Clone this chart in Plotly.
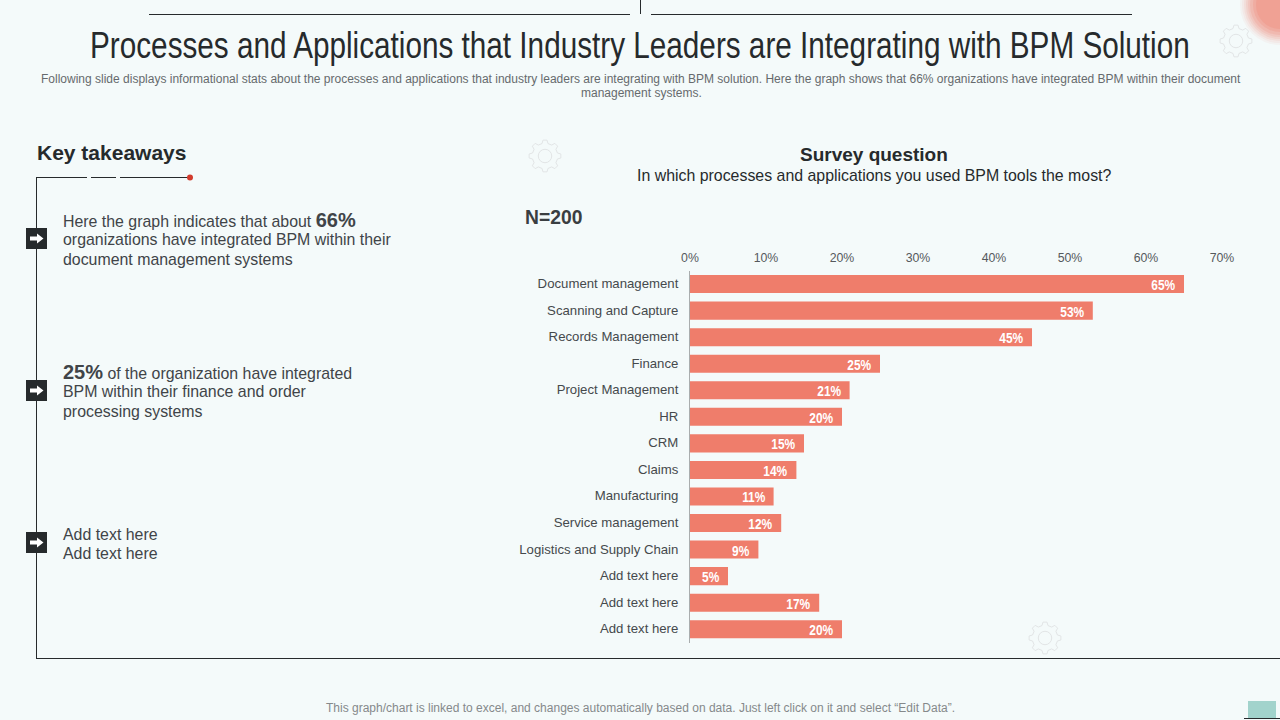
import numpy as np
import plotly.graph_objects as go

categories = ["Document management", "Scanning and Capture", "Records Management", "Finance",
              "Project Management", "HR", "CRM", "Claims", "Manufacturing", "Service management",
              "Logistics and Supply Chain", "Add text here", "Add text here", "Add text here"]
values = [65, 53, 45, 25, 21, 20, 15, 14, 11, 12, 9, 5, 17, 20]
x_ticks = [0, 10, 20, 30, 40, 50, 60, 70]

W, H = 1280, 720
BG = "#f4fafa"
BAR = "#ef7d6b"
DARK = "#262a2c"
TEXT = "#404448"
SANS = "Liberation Sans, Arial, sans-serif"
BODY = 15.9

def px(x): return x / W
def py(y): return 1 - y / H

shapes, annos = [], []

def line(x0, y0, x1, y1, color=DARK, width=1):
    shapes.append(dict(type="line", xref="paper", yref="paper", x0=px(x0), y0=py(y0), x1=px(x1), y1=py(y1),
                       line=dict(color=color, width=width)))

def rect(x0, y0, x1, y1, color):
    shapes.append(dict(type="rect", xref="paper", yref="paper", x0=px(x0), y0=py(y0), x1=px(x1), y1=py(y1),
                       fillcolor=color, line=dict(width=0)))

def circle(cx, cy, r, color, line_color=None, lw=0.8, layer="above"):
    shapes.append(dict(type="circle", xref="paper", yref="paper", x0=px(cx - r), y0=py(cy + r), x1=px(cx + r), y1=py(cy - r),
                       fillcolor=color, line=dict(width=lw if line_color else 0, color=line_color or color), layer=layer))

def text(x, y, s, size, color=TEXT, anchor="left", font=SANS):
    if anchor == "left":
        x -= 2  # annotation box padding
    annos.append(dict(xref="paper", yref="paper", x=px(x), y=py(y), text=s, showarrow=False, xanchor=anchor,
                      yanchor="middle", align=anchor, font=dict(size=size, color=color, family=font)))

def gear(cx, cy, r=16, teeth=8, color="#e2e5e6"):
    pts = []
    for i in range(teeth):
        a = 2 * np.pi * i / teeth
        step = 2 * np.pi / teeth
        for da, rr in [(-0.30, 0.80), (-0.16, 1.0), (0.16, 1.0), (0.30, 0.80)]:
            t = a + da * step
            pts.append((cx + rr * r * np.cos(t), cy + rr * r * np.sin(t)))
    path = "M " + " L ".join(f"{px(a):.5f},{py(b):.5f}" for a, b in pts) + " Z"
    shapes.append(dict(type="path", xref="paper", yref="paper", path=path, line=dict(color=color, width=1), layer="below"))
    circle(cx, cy, r * 0.42, "rgba(0,0,0,0)", color, 1)

# top rule
line(149, 14.5, 630, 14.5)
line(651, 14.5, 1132, 14.5)
line(640.5, 0, 640.5, 14)

# top-right blob (soft edge)
for r, a in [(40, 0.06), (38, 0.08), (36, 0.10), (34, 0.12), (32, 0.14), (30, 0.18), (27, 0.22), (24, 0.25)]:
    circle(1280, 5, r, f"rgba(240,127,110,{a})")

gear(1236, 41)
gear(545, 156)
gear(1045, 638)

# left frame
line(37, 177.5, 87, 177.5)
line(91, 177.5, 116, 177.5)
line(120, 177.5, 190, 177.5)
line(36.5, 177, 36.5, 658)
line(36, 658.5, 1280, 658.5)
circle(190, 177.5, 3, "#d23b2c")

# arrow markers
for cy in (238.5, 390.5, 542.5):
    rect(26, cy - 10.5, 47, cy + 10.5, DARK)
    path = "M " + " L ".join(f"{px(a):.5f},{py(b):.5f}" for a, b in [
        (30, cy - 2), (37, cy - 2), (37, cy - 5), (43.5, cy), (37, cy + 5), (37, cy + 2), (30, cy + 2)]) + " Z"
    shapes.append(dict(type="path", xref="paper", yref="paper", path=path, fillcolor="#ffffff", line=dict(width=0)))

# footer marker
rect(1248, 701, 1276, 718, "#a2d3cc")
line(1244, 718.5, 1280, 718.5)

# headings
text(640, 45.5, "Processes and Applications that Industry Leaders are Integrating with BPM Solution", 37, DARK, "center")
text(641, 79, "Following slide displays informational stats about the processes and applications that industry leaders are integrating with BPM solution. Here the graph shows that 66% organizations have integrated BPM within their document", 12, "#666a6d", "center")
text(641, 93, "management systems.", 12, "#666a6d", "center")
text(37, 152.5, "<b>Key takeaways</b>", 21, DARK)

text(63, 219.5, 'Here the graph indicates that about <b><span style="font-size:20px">66%</span></b>', BODY)
text(63, 240, "organizations have integrated BPM within their", BODY)
text(63, 259, "document management systems", BODY)
text(63, 371.5, '<b><span style="font-size:20px">25%</span></b> of the organization have integrated', BODY)
text(63, 392, "BPM within their finance and order", BODY)
text(63, 411, "processing systems", BODY)
text(63, 534, "Add text here", BODY)
text(63, 553, "Add text here", BODY)

text(874, 154, "<b>Survey question</b>", 19, DARK, "center")
text(874, 175, "In which processes and applications you used BPM tools the most?", BODY, DARK, "center")
text(525, 217, "<b>N=200</b>", 19.3, "#3a3e41")
text(640, 708, "This graph/chart is linked to excel, and changes automatically based on data. Just left click on it and select “Edit Data”.", 12, "#85898b", "center")

positions = list(range(len(categories)))

# bar value labels, placed from the data
for p, v in zip(positions, values):
    annos.append(dict(xref="x", yref="y", x=v, y=p, text=f"<b>{v}%</b>", showarrow=False,
                      xanchor="right", xshift=-6, yshift=-1, font=dict(size=14, color="#ffffff", family=SANS)))

fig = go.Figure(go.Bar(y=positions, x=values, orientation="h", marker=dict(color=BAR, line=dict(width=0)),
                       hoverinfo="skip"))
fig.update_layout(
    width=W, height=H, margin=dict(l=0, r=0, t=0, b=0, autoexpand=False), autosize=False,
    paper_bgcolor=BG, plot_bgcolor=BG, showlegend=False, bargap=0.32,
    shapes=shapes, annotations=annos,
    xaxis=dict(domain=[px(690), px(1222)], range=[0, 70], side="top", tickvals=x_ticks,
               ticktext=[f"{t}%" for t in x_ticks], showgrid=False, zeroline=False, showline=False, ticks="",
               ticklabelstandoff=5, tickfont=dict(size=12.3, color="#55595c", family=SANS)),
    yaxis=dict(domain=[py(642.5), py(270.8)], range=[len(categories) - 0.5, -0.5], tickvals=positions,
               ticktext=categories, showgrid=False, zeroline=False,
               showline=True, linecolor="#a9adae", linewidth=1, ticks="", ticklabelstandoff=8,
               tickfont=dict(size=13.2, color="#45494c", family=SANS)),
)

post = """
document.documentElement.style.margin='0';
document.body.style.margin='0';
document.body.style.overflow='hidden';
document.querySelectorAll('.annotation-text').forEach(function(el){
  var t = el.textContent, k = 0;
  if (t.indexOf('Processes and') === 0) k = 0.803;
  else if (/^\\d+%$/.test(t)) k = 0.85;
  if (k) {
    el.style.transformBox = 'fill-box';
    el.style.transformOrigin = /^\\d/.test(t) ? 'right center' : 'center';
    el.style.transform = 'scaleX(' + k + ')';
  }
});
document.querySelectorAll('.ytick text').forEach(function(el){ el.setAttribute('dy', '-0.7'); });
"""
fig.write_html("out.html", config=dict(displayModeBar=False, responsive=False),
               default_width="1280px", default_height="720px", post_script=post)
